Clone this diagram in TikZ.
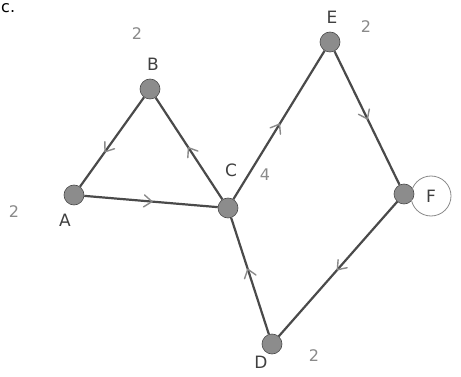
\documentclass[tikz,border=0pt]{standalone}
\usepackage{fontspec}
\setmainfont{DejaVu Sans}
\usetikzlibrary{decorations.markings}
\definecolor{edgecol}{HTML}{4A4A4A}
\definecolor{dotcol}{HTML}{8C8C8C}
\definecolor{markcol}{HTML}{8A8A8A}
\definecolor{labcol}{HTML}{404040}
\tikzset{
  x=1pt, y=-1pt,
  vdot/.style={circle, fill=dotcol, draw=edgecol, line width=0.6pt, minimum size=20pt, inner sep=0pt},
  vlab/.style={text=labcol, font=\fontsize{17}{17}\selectfont, inner sep=0pt},
  wnum/.style={text=markcol, font=\fontsize{16}{16}\selectfont, inner sep=0pt},
  edge/.style={draw=edgecol, line width=2.2pt},
  chev/.style={postaction={decorate, decoration={markings,
      mark=at position #1 with {\draw[markcol, line width=1.4pt, line cap=round, line join=round] (-7,6) -- (1,0) -- (-7,-6);}}}}
}
\begin{document}
\begin{tikzpicture}
\useasboundingbox[fill=white] (0,0) rectangle (461,377);
% vertices
\node[vdot] (A) at (74,195) {};
\node[vdot] (B) at (150,89) {};
\node[vdot] (C) at (228,208) {};
\node[vdot] (D) at (272,344) {};
\node[vdot] (E) at (330,42) {};
\node[vdot] (F) at (404,194) {};
% edges
\draw[edge, chev=0.5]  (A) -- (C);
\draw[edge, chev=0.6]  (B) -- (A);
\draw[edge, chev=0.5]  (C) -- (B);
\draw[edge, chev=0.5]  (C) -- (E);
\draw[edge, chev=0.5]  (E) -- (F);
\draw[edge, chev=0.5]  (F) -- (D);
\draw[edge, chev=0.55] (D) -- (C);
% vertex letters
\node[vlab] (lA) at (65,220) {A};
\node[vlab] (lB) at (153,64) {B};
\node[vlab] (lC) at (231,170) {C};
\node[vlab] (lD) at (261,362) {D};
\node[vlab] (lE) at (332,17) {E};
\node[vlab] (lF) at (431,196) {F};
\draw[markcol, line width=0.8pt] (lF) ellipse [x radius=20, y radius=20];
% degrees
\node[wnum] (nA) at (14,212) {2};
\node[wnum] (nB) at (137,34) {2};
\node[wnum] (nC) at (265,175) {4};
\node[wnum] (nD) at (314,356) {2};
\node[wnum] (nE) at (366,27) {2};
% corner text
\node[text=black, font=\fontsize{16}{16}\selectfont, inner sep=0pt, anchor=base west] (cc) at (1,13) {c.};
\end{tikzpicture}
\end{document}
